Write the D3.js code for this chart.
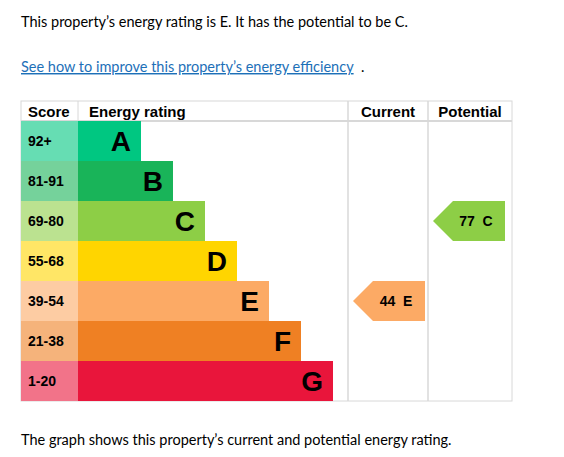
<!DOCTYPE html>
<html><head><meta charset="utf-8">
<script src="https://cdn.jsdelivr.net/npm/d3@7"></script>
<style>
body{margin:0;background:#fff;font-family:Lato,"Noto Sans",sans-serif;color:#0b0c0c}
</style></head><body>
<svg id="chart" width="564" height="457"></svg>
<script>
const bands = ["A","B","C","D","E","F","G"];
const scores = ["92+","81-91","69-80","55-68","39-54","21-38","1-20"];
const colors = ["#00c781","#19b459","#8dce46","#ffd500","#fcaa65","#ef8023","#e9153b"];
const current = {score: 44, band: "E"};
const potential = {score: 77, band: "C"};

const svg = d3.select("#chart");
const tLeft = 21, tRight = 512, tTop = 101, headH = 20, rowH = 40;
const scoreEnd = 78, curX = 348, potX = 428;

svg.append("text").attr("x", 21).attr("y", 27).style("font-size", "14.5px")
  .text("This property\u2019s energy rating is E. It has the potential to be C.");
svg.append("text").attr("x", 21).attr("y", 72).style("font-size", "14.5px")
  .attr("fill", "#1d70b8").attr("text-decoration", "underline")
  .text("See how to improve this property\u2019s energy efficiency");
svg.append("text").attr("x", 361).attr("y", 72).style("font-size", "14.5px").text(".");
svg.append("text").attr("x", 21).attr("y", 445).style("font-size", "14.5px")
  .text("The graph shows this property\u2019s current and potential energy rating.");

const y = d3.scaleBand().domain(bands).range([tTop + headH, tTop + headH + rowH * bands.length]);
const w = d3.scaleLinear().domain([0, 6]).range([141, 333]);
const tBottom = tTop + headH + rowH * bands.length;

const g = svg.append("g").style("font-family", "Arial,'Liberation Sans',sans-serif");

// grid lines
const grid = "#d8d8d8";
g.append("rect").attr("x", tLeft).attr("y", tTop).attr("width", tRight - tLeft).attr("height", tBottom - tTop)
  .attr("fill", "none").attr("stroke", grid);
g.append("line").attr("x1", tLeft).attr("x2", tRight).attr("y1", tTop + headH).attr("y2", tTop + headH).attr("stroke", grid).attr("stroke-width", 2);
[curX, potX].forEach(x => g.append("line").attr("x1", x).attr("x2", x).attr("y1", tTop).attr("y2", tBottom).attr("stroke", grid).attr("stroke-width", 1.5));
g.append("line").attr("x1", scoreEnd).attr("x2", scoreEnd).attr("y1", tTop).attr("y2", tTop + headH).attr("stroke", grid);

// headers
const hy = tTop + 16;
g.append("text").attr("x", 28).attr("y", hy).attr("font-weight", "bold").style("font-size", "15px").text("Score");
g.append("text").attr("x", 89).attr("y", hy).attr("font-weight", "bold").style("font-size", "15px").text("Energy rating");
g.append("text").attr("x", (curX + potX) / 2).attr("y", hy).attr("text-anchor", "middle").attr("font-weight", "bold").style("font-size", "15px").text("Current");
g.append("text").attr("x", (potX + tRight) / 2).attr("y", hy).attr("text-anchor", "middle").attr("font-weight", "bold").style("font-size", "15px").text("Potential");

// rows
bands.forEach((b, i) => {
  const yy = y(b);
  g.append("rect").attr("x", tLeft).attr("y", yy).attr("width", scoreEnd - tLeft).attr("height", rowH)
    .attr("fill", d3.interpolateRgb(colors[i], "#fff")(0.4));
  g.append("text").attr("x", 28).attr("y", yy + rowH / 2 + 5).attr("font-weight", "bold").style("font-size", "14px").text(scores[i]);
  g.append("rect").attr("x", scoreEnd).attr("y", yy).attr("width", w(i) - scoreEnd).attr("height", rowH).attr("fill", colors[i]);
  g.append("text").attr("x", w(i) - 10).attr("y", yy + rowH / 2 + 10).attr("text-anchor", "end")
    .attr("font-weight", "bold").style("font-size", "28px").text(b);
});

function arrow(rating, x0, x1) {
  const i = bands.indexOf(rating.band);
  const yy = y(rating.band), tip = 20;
  g.append("path").attr("fill", colors[i])
    .attr("d", `M${x0},${yy + rowH / 2}L${x0 + tip},${yy}H${x1}V${yy + rowH}H${x0 + tip}Z`);
  g.append("text").attr("x", (x0 + tip + x1) / 2 - 3).attr("y", yy + rowH / 2 + 5).attr("text-anchor", "middle")
    .attr("font-weight", "bold").style("font-size", "14px").style("white-space", "pre")
    .text(`${rating.score}  ${rating.band}`);
}
arrow(current, 353, 425);
arrow(potential, 433, 505);
</script></body></html>
